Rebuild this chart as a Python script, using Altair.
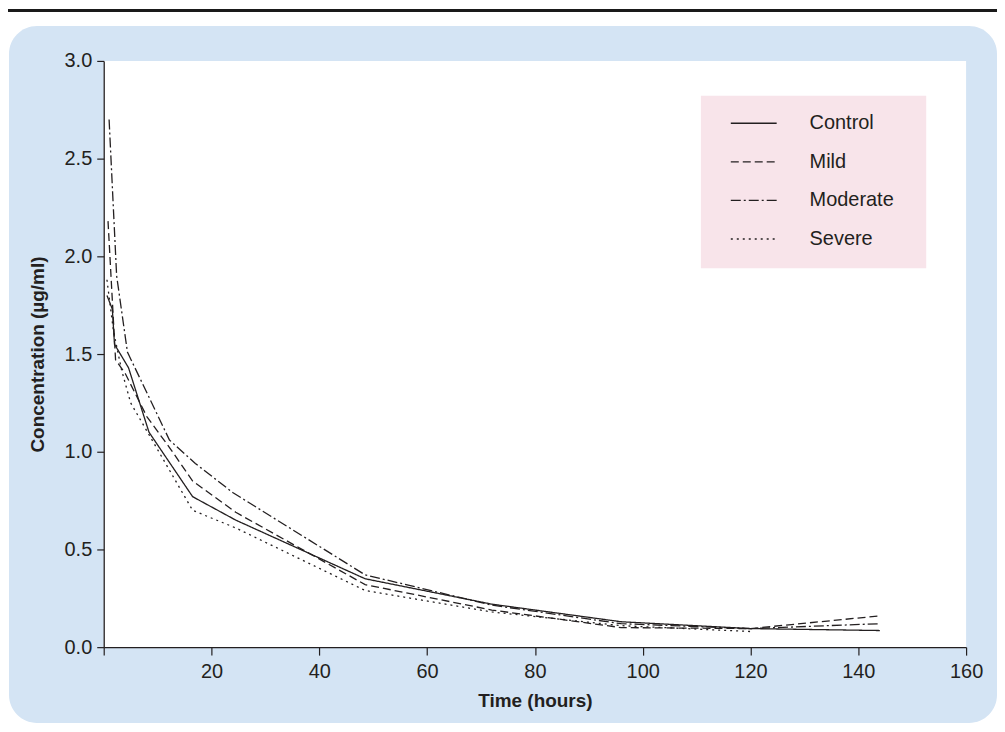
import altair as alt
import pandas as pd

series = ["Control", "Mild", "Moderate", "Severe"]

control_time = [0.6, 1.6, 2.0, 4.6, 8.4, 16.5, 24.5, 48.5, 72, 96, 120, 144]
control_conc = [1.80, 1.73, 1.55, 1.43, 1.10, 0.77, 0.65, 0.35, 0.22, 0.13, 0.095, 0.085]

mild_time = [0.8, 2.2, 4.0, 8.0, 12.5, 16.5, 24.5, 48.5, 72, 96, 120, 144]
mild_conc = [2.18, 1.47, 1.40, 1.18, 1.01, 0.85, 0.69, 0.32, 0.19, 0.10, 0.095, 0.16]

moderate_time = [1.0, 2.4, 4.4, 12.2, 17, 24, 48.5, 72, 96, 120, 144]
moderate_conc = [2.70, 1.90, 1.51, 1.06, 0.94, 0.79, 0.37, 0.215, 0.12, 0.095, 0.12]

severe_time = [0.6, 1.8, 3.3, 5.0, 16.5, 24.5, 48.5, 72, 96, 120]
severe_conc = [1.88, 1.62, 1.42, 1.25, 0.70, 0.61, 0.29, 0.18, 0.11, 0.08]

x_ticks = [0, 20, 40, 60, 80, 100, 120, 140, 160]
y_ticks = [0.0, 0.5, 1.0, 1.5, 2.0, 2.5, 3.0]

rows = []
for name, ts, cs in [("Control", control_time, control_conc),
                     ("Mild", mild_time, mild_conc),
                     ("Moderate", moderate_time, moderate_conc),
                     ("Severe", severe_time, severe_conc)]:
    for t, c in zip(ts, cs):
        rows.append({"series": name, "time": t, "conc": c})
df = pd.DataFrame(rows)

W, H = 865, 588
FONT = "Liberation Sans"
INK = "#231f20"

deco = pd.DataFrame({"k": [0]})

bg = alt.Chart(deco).mark_rect(color="#d4e4f4", cornerRadius=28).encode(
    x=alt.value(-95), x2=alt.value(896), y=alt.value(-35), y2=alt.value(664))
band = alt.Chart(deco).mark_rect(color="#1a1a1a").encode(
    x=alt.value(-96), x2=alt.value(896), y=alt.value(-52), y2=alt.value(-49))
plotbg = alt.Chart(deco).mark_rect(color="white").encode(
    x=alt.value(0), x2=alt.value(W), y=alt.value(0), y2=alt.value(H))
legbox = alt.Chart(deco).mark_rect(color="#f8e4ea").encode(
    x=alt.value(599), x2=alt.value(825), y=alt.value(35), y2=alt.value(208))

lines = alt.Chart(df).mark_line(strokeWidth=1.3, color=INK).encode(
    x=alt.X("time:Q",
            scale=alt.Scale(domain=[0, 160], nice=False, zero=False),
            axis=alt.Axis(values=x_ticks,
                          labelExpr="datum.value == 0 ? '' : datum.label",
                          title="Time (hours)", grid=False, zindex=1,
                          tickSize=8, tickWidth=1.2, tickColor=INK,
                          domainColor=INK, domainWidth=1.3,
                          labelFont=FONT, labelFontSize=20, labelColor=INK,
                          labelPadding=6, labelFlush=False, labelOverlap=False,
                          titleFont=FONT, titleFontSize=19, titleFontWeight="bold",
                          titleColor=INK, titleBaseline="middle", titleY=54)),
    y=alt.Y("conc:Q",
            scale=alt.Scale(domain=[0, 3], nice=False),
            axis=alt.Axis(values=y_ticks, format=".1f",
                          title="Concentration (µg/ml)", grid=False, zindex=1,
                          tickSize=7, tickWidth=1.2, tickColor=INK,
                          domainColor=INK, domainWidth=1.3,
                          labelFont=FONT, labelFontSize=20, labelColor=INK,
                          labelPadding=5, labelFlush=False, labelOverlap=False,
                          titleFont=FONT, titleFontSize=19, titleFontWeight="bold",
                          titleColor=INK, titleBaseline="middle",
                          titleX=-66, titleY=H / 2)),
    strokeDash=alt.StrokeDash(
        "series:N",
        scale=alt.Scale(domain=series,
                        range=[[1, 0], [8, 4], [10, 3, 2, 3], [2, 4]]),
        legend=alt.Legend(orient="none", legendX=628, legendY=50, title=None,
                          symbolType="M-1,0H3", symbolSize=529,
                          symbolStrokeWidth=1.3, symbolStrokeColor=INK,
                          symbolFillColor="transparent",
                          labelFont=FONT, labelFontSize=20, labelColor=INK,
                          labelOffset=55, rowPadding=15.7, padding=0, zindex=1)),
    order="time:Q",
)

chart = alt.layer(bg, band, plotbg, legbox, lines).properties(
    width=W, height=H,
    autosize=alt.AutoSizeParams(type="none"),
    padding={"left": 96, "top": 52, "right": 31, "bottom": 76},
    background="white",
).configure_view(strokeWidth=0)

chart.save("out.html", embed_options={"renderer": "svg", "actions": False})
